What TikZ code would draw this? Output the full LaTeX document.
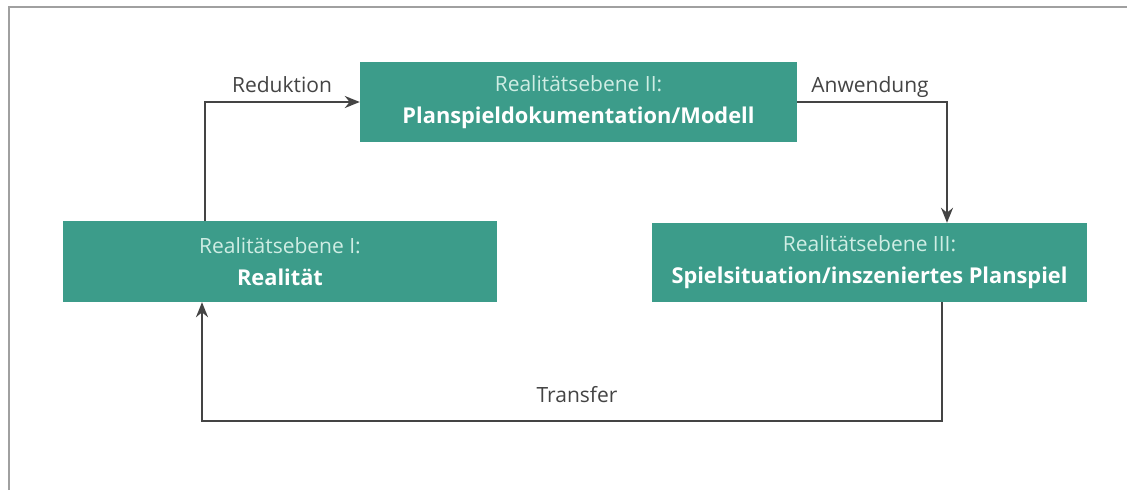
\documentclass[tikz,border=0pt]{standalone}
\usepackage{fontspec}
\setmainfont{Open Sans}
\usetikzlibrary{arrows.meta}
\definecolor{teal1}{HTML}{3C9C8A}
\definecolor{lightt}{HTML}{CFEDE4}
\definecolor{linegray}{HTML}{444444}
\definecolor{framegray}{HTML}{A0A0A0}
\tikzset{
  lvbox/.style={fill=teal1, draw=none, inner sep=0pt, align=center,
    font=\fontsize{21}{32}\selectfont},
  conn/.style={draw=linegray, line width=2pt, -{Stealth[length=15pt,width=12pt]}},
  lbl/.style={text=linegray, font=\fontsize{21}{24}\selectfont, inner sep=0pt}
}
\newcommand{\up}[1]{\textcolor{lightt}{#1}}
\newcommand{\dn}[1]{\textcolor{white}{\fontsize{21.8}{32}\selectfont\bfseries #1}}
\begin{document}
\begin{tikzpicture}[x=1pt,y=-1pt]
\useasboundingbox (0,0) rectangle (1127,490);
\draw[framegray, line width=2pt] (8.5,490) -- (8.5,7) -- (1127,7);
\node[lvbox, minimum width=437pt, minimum height=80pt] (II) at (578.5,102)
  {\up{Realitätsebene II:}\\\dn{Planspieldokumentation/Modell}};
\node[lvbox, minimum width=434pt, minimum height=81pt] (I) at (280,261.5)
  {\up{Realitätsebene I:}\\\dn{Realität}};
\node[lvbox, minimum width=435pt, minimum height=79pt] (III) at (869.5,262.5)
  {\up{Realitätsebene III:}\\\dn{Spielsituation/inszeniertes Planspiel}};
\node[lbl] (red) at (282,85) {Reduktion};
\node[lbl] (anw) at (870,87) {Anwendung};
\node[lbl] (tra) at (577,395) {Transfer};
\draw[conn] ([xshift=-75pt]I.north) |- (II.west);
\draw[conn] (II.east) -| ([xshift=77.5pt]III.north);
\draw[conn] ([xshift=72.5pt]III.south) -- ++(0,119) -| ([xshift=-78pt]I.south);
\end{tikzpicture}
\end{document}
